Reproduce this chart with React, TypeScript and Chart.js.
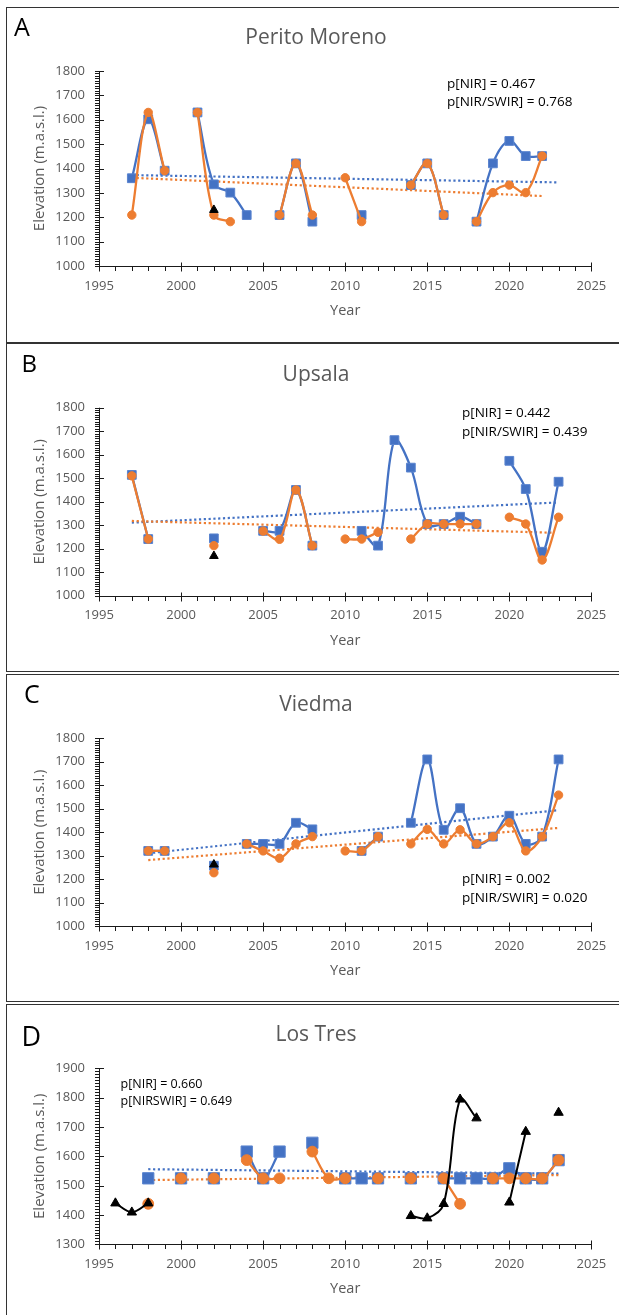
import React, { useEffect, useRef } from 'react';
import { Chart, registerables } from 'chart.js';

Chart.register(...registerables);

const FONT = "'Open Sans', 'Liberation Sans', sans-serif";
const GRAY = '#595959';
const BLUE = '#4472C4';
const ORANGE = '#ED7D31';
const BLACK = '#000000';
const AXIS = '#1a1a1a';

const X_TICKS = [1995, 2000, 2005, 2010, 2015, 2020, 2025];
const Y_TICKS_ABC = [1000, 1100, 1200, 1300, 1400, 1500, 1600, 1700, 1800];
const Y_TICKS_D = [1300, 1400, 1500, 1600, 1700, 1800, 1900];

// ---- Panel A: Perito Moreno
const A_YEARS = [1997, 1998, 1999, 2000, 2001, 2002, 2003, 2004, 2005, 2006, 2007, 2008, 2009, 2010, 2011, 2012, 2013, 2014, 2015, 2016, 2017, 2018, 2019, 2020, 2021, 2022];
const A_NIR = [1360, 1602, 1391, null, 1630, 1335, 1301, 1209, null, 1209, 1421, 1182, null, null, 1209, null, null, 1332, 1421, 1209, null, 1182, 1421, 1513, 1451, 1451];
const A_NIRSWIR = [1209, 1630, 1391, null, 1630, 1209, 1182, null, null, 1209, 1421, 1209, null, 1362, 1182, null, null, 1332, 1421, 1209, null, 1182, 1301, 1332, 1301, 1451];
const A_TRI_YEARS = [2002];
const A_TRI = [1230];
const A_TREND_NIR_YEARS = [1997, 2023];
const A_TREND_NIR = [1373, 1343];
const A_TREND_SWIR_YEARS = [1997, 2022];
const A_TREND_SWIR = [1362, 1287];

// ---- Panel B: Upsala
const B_YEARS = [1997, 1998, 1999, 2000, 2001, 2002, 2003, 2004, 2005, 2006, 2007, 2008, 2009, 2010, 2011, 2012, 2013, 2014, 2015, 2016, 2017, 2018, 2019, 2020, 2021, 2022, 2023];
const B_NIR = [1514, 1241, null, null, null, 1244, null, null, 1276, 1276, 1450, 1213, null, null, 1276, 1213, 1662, 1545, 1305, 1305, 1336, 1305, null, 1574, 1454, 1187, 1485];
const B_NIRSWIR = [1510, 1241, null, null, null, 1213, null, null, 1275, 1240, 1450, 1213, null, 1241, 1241, 1270, null, 1241, 1305, 1305, 1305, 1305, null, 1334, 1305, 1152, 1334];
const B_TRI_YEARS = [2002];
const B_TRI = [1169];
const B_TREND_NIR_YEARS = [1997, 2023];
const B_TREND_NIR = [1311, 1397];
const B_TREND_SWIR_YEARS = [1997, 2022.6];
const B_TREND_SWIR = [1318, 1268];

// ---- Panel C: Viedma
const C_YEARS = [1998, 1999, 2000, 2001, 2002, 2003, 2004, 2005, 2006, 2007, 2008, 2009, 2010, 2011, 2012, 2013, 2014, 2015, 2016, 2017, 2018, 2019, 2020, 2021, 2022, 2023];
const C_NIR = [1320, 1320, null, null, 1257, null, 1350, 1350, 1350, 1440, 1412, null, null, 1320, 1381, null, 1440, 1710, 1410, 1502, 1350, 1381, 1470, 1350, 1381, 1710];
const C_NIRSWIR = [1320, 1320, null, null, 1227, null, 1350, 1320, 1289, 1350, 1381, null, 1320, 1320, 1381, null, 1350, 1412, 1350, 1410, 1350, 1381, 1440, 1320, 1381, 1558];
const C_TRI_YEARS = [2002];
const C_TRI = [1262];
const C_TREND_NIR_YEARS = [1998, 2023];
const C_TREND_NIR = [1310, 1494];
const C_TREND_SWIR_YEARS = [1998, 2023];
const C_TREND_SWIR = [1281, 1418];

// ---- Panel D: Los Tres
const D_YEARS = [1996, 1997, 1998, 1999, 2000, 2001, 2002, 2003, 2004, 2005, 2006, 2007, 2008, 2009, 2010, 2011, 2012, 2013, 2014, 2015, 2016, 2017, 2018, 2019, 2020, 2021, 2022, 2023];
const D_NIR = [null, null, 1525, null, 1525, null, 1525, null, 1616, 1525, 1616, null, 1646, null, 1525, 1525, 1525, null, 1525, null, 1525, 1525, 1525, 1525, 1559, 1525, 1525, 1587];
const D_NIRSWIR = [null, null, 1438, null, 1525, null, 1525, null, 1587, 1525, 1525, null, 1616, 1525, 1525, null, 1525, null, 1525, null, 1525, 1438, null, 1525, 1525, 1525, 1525, 1587];
const D_TRI_YEARS = D_YEARS;
const D_TRI = [1440, 1409, 1440, null, null, null, null, null, null, null, null, null, null, null, null, null, null, null, 1397, 1389, 1438, 1794, 1730, null, 1443, 1684, null, 1749];
const D_TREND_NIR_YEARS = [1998, 2023];
const D_TREND_NIR = [1556, 1541];
const D_TREND_SWIR_YEARS = [1998, 2023];
const D_TREND_SWIR = [1519, 1536];

const PANELS = [
  {
    letter: 'A', letterX: 14, letterY: 26, letterSize: 25,
    title: 'Perito Moreno', titleY: 36,
    top: 7, height: 336, plotTop: 71, plotBottom: 266,
    yTicks: Y_TICKS_ABC,
    years: A_YEARS, nir: A_NIR, swir: A_NIRSWIR, triYears: A_TRI_YEARS, tri: A_TRI,
    tnY: A_TREND_NIR_YEARS, tn: A_TREND_NIR, tsY: A_TREND_SWIR_YEARS, ts: A_TREND_SWIR,
    ann: ['p[NIR] = 0.467', 'p[NIR/SWIR] = 0.768'], annX: 447, annY1: 83.5, annY2: 101.5, annSize: 13.5,
    sq: 6.2, ci: 4.2, tr: 5,
  },
  {
    letter: 'B', letterX: 21.5, letterY: 363, letterSize: 24,
    title: 'Upsala', titleY: 372.5,
    top: 343, height: 329, plotTop: 407.7, plotBottom: 595.7,
    yTicks: Y_TICKS_ABC,
    years: B_YEARS, nir: B_NIR, swir: B_NIRSWIR, triYears: B_TRI_YEARS, tri: B_TRI,
    tnY: B_TREND_NIR_YEARS, tn: B_TREND_NIR, tsY: B_TREND_SWIR_YEARS, ts: B_TREND_SWIR,
    ann: ['p[NIR] = 0.442', 'p[NIR/SWIR] = 0.439'], annX: 462, annY1: 412.7, annY2: 431.5, annSize: 13.5,
    sq: 6.2, ci: 4.2, tr: 5,
  },
  {
    letter: 'C', letterX: 24, letterY: 693, letterSize: 25,
    title: 'Viedma', titleY: 703,
    top: 674, height: 328, plotTop: 738.3, plotBottom: 926,
    yTicks: Y_TICKS_ABC,
    years: C_YEARS, nir: C_NIR, swir: C_NIRSWIR, triYears: C_TRI_YEARS, tri: C_TRI,
    tnY: C_TREND_NIR_YEARS, tn: C_TREND_NIR, tsY: C_TREND_SWIR_YEARS, ts: C_TREND_SWIR,
    ann: ['p[NIR] = 0.002', 'p[NIR/SWIR] = 0.020'], annX: 462, annY1: 879.3, annY2: 897.7, annSize: 13.5,
    sq: 6.2, ci: 4.2, tr: 5,
  },
  {
    letter: 'D', letterX: 21.5, letterY: 1035, letterSize: 27,
    title: 'Los Tres', titleY: 1033.3,
    top: 1004, height: 330, plotTop: 1068.3, plotBottom: 1244.3,
    yTicks: Y_TICKS_D,
    years: D_YEARS, nir: D_NIR, swir: D_NIRSWIR, triYears: D_TRI_YEARS, tri: D_TRI,
    tnY: D_TREND_NIR_YEARS, tn: D_TREND_NIR, tsY: D_TREND_SWIR_YEARS, ts: D_TREND_SWIR,
    ann: ['p[NIR] = 0.660', 'p[NIRSWIR] = 0.649'], annX: 120.5, annY1: 1084, annY2: 1100.7, annSize: 12.5,
    sq: 8, ci: 5.4, tr: 5.4,
  },
];

const PLOT_LEFT = 99;
const PLOT_RIGHT = 591.4;
const CANVAS_W = 619;
const Y_TITLE_CX = 39.5;
const Y_TITLE_SIZE = 15;
const X_TITLE_SIZE = 14.5;
const TICK_SIZE = 13;
const YEAR_OFFSET = 45;

const excelAxes = {
  id: 'excelAxes',
  beforeDatasetsDraw(chart: any, _args: any, opts: any) {
    const { ctx, chartArea } = chart;
    const xs = chart.scales.x;
    const ys = chart.scales.y;
    const { top, right, bottom, left } = chartArea;
    const ax = Math.round(left) + 0.5;
    const ay = Math.round(bottom) + 0.5;
    ctx.save();
    ctx.strokeStyle = opts.color || AXIS;
    ctx.lineWidth = 1;
    ctx.beginPath();
    ctx.moveTo(ax, top);
    ctx.lineTo(ax, ay);
    ctx.lineTo(right, ay);
    const yMinor = opts.yMinor;
    const ratio = Math.round(opts.yMajor / yMinor);
    const nY = Math.round((ys.max - ys.min) / yMinor);
    for (let i = 0; i <= nY; i++) {
      const v = ys.min + i * yMinor;
      const py = Math.round(ys.getPixelForValue(v)) + 0.5;
      if (i % ratio === 0) {
        ctx.moveTo(ax - 4.5, py);
        ctx.lineTo(ax + 4.5, py);
      } else {
        ctx.moveTo(ax - 4.5, py);
        ctx.lineTo(ax, py);
      }
    }
    const nX = Math.round(xs.max - xs.min);
    for (let i = 0; i <= nX; i++) {
      const v = xs.min + i;
      const px = Math.round(xs.getPixelForValue(v)) + 0.5;
      if (i % 5 === 0) {
        ctx.moveTo(px, ay - 4);
        ctx.lineTo(px, ay + 5);
      } else {
        ctx.moveTo(px, ay);
        ctx.lineTo(px, ay + 4.5);
      }
    }
    ctx.stroke();
    ctx.restore();
  },
};

function pts(xs: number[], ys: (number | null)[]) {
  return xs.map((x, i) => ({ x, y: ys[i] }));
}

function Panel({ p }: { p: any }) {
  const ref = useRef<HTMLCanvasElement>(null);
  useEffect(() => {
    const canvas = ref.current;
    if (!canvas) return;
    const yTitleLH = Y_TITLE_SIZE * 1.2;
    const xTitleLH = X_TITLE_SIZE * 1.2;
    const scaleLeft = Y_TITLE_CX - yTitleLH / 2;
    const yAxisW = PLOT_LEFT - scaleLeft;
    const xAxisH = YEAR_OFFSET + xTitleLH / 2;
    const padTop = p.plotTop - p.top;
    const padBottom = p.height - (p.plotBottom - p.top) - xAxisH;
    const tension = 0.35;
    const yTicks: number[] = p.yTicks;

    const chart = new Chart(canvas, {
      type: 'line',
      data: {
        datasets: [
          {
            label: 'tri',
            data: pts(p.triYears, p.tri),
            borderColor: BLACK,
            backgroundColor: BLACK,
            borderWidth: 2,
            pointStyle: 'triangle',
            pointRadius: p.tr,
            pointBorderWidth: 1,
            tension,
            spanGaps: false,
            order: 0,
          },
          {
            label: 'NIR/SWIR',
            data: pts(p.years, p.swir),
            borderColor: ORANGE,
            backgroundColor: ORANGE,
            borderWidth: 2.3,
            pointStyle: 'circle',
            pointRadius: p.ci,
            pointBorderWidth: 1,
            tension,
            spanGaps: false,
            order: 1,
          },
          {
            label: 'NIR',
            data: pts(p.years, p.nir),
            borderColor: BLUE,
            backgroundColor: BLUE,
            pointBorderColor: '#5a84cf',
            borderWidth: 2.3,
            pointStyle: 'rect',
            pointRadius: p.sq,
            pointBorderWidth: 1,
            tension,
            spanGaps: false,
            order: 2,
          },
          {
            label: 'trend NIR/SWIR',
            data: pts(p.tsY, p.ts),
            borderColor: ORANGE,
            borderWidth: 2.2,
            borderDash: [2.2, 2.6],
            pointRadius: 0,
            tension: 0,
            order: 3,
          },
          {
            label: 'trend NIR',
            data: pts(p.tnY, p.tn),
            borderColor: BLUE,
            borderWidth: 2.2,
            borderDash: [2.2, 2.6],
            pointRadius: 0,
            tension: 0,
            order: 3,
          },
        ],
      },
      options: {
        animation: false,
        responsive: false,
        maintainAspectRatio: false,
        events: [],
        layout: {
          padding: { left: scaleLeft, right: CANVAS_W - PLOT_RIGHT, top: padTop, bottom: padBottom },
        },
        plugins: {
          legend: { display: false },
          tooltip: { enabled: false },
          title: { display: false },
          excelAxes: { yMajor: 100, yMinor: 10, color: AXIS },
        } as any,
        scales: {
          x: {
            type: 'linear',
            min: X_TICKS[0],
            max: X_TICKS[X_TICKS.length - 1],
            afterBuildTicks: (s: any) => {
              s.ticks = X_TICKS.map((v) => ({ value: v }));
            },
            afterFit: (s: any) => {
              s.height = xAxisH;
            },
            ticks: {
              autoSkip: false,
              maxRotation: 0,
              color: GRAY,
              padding: 12,
              font: { family: FONT, size: TICK_SIZE },
              callback: (v: any) => String(v),
            },
            grid: { display: false, drawTicks: false },
            border: { display: false },
            title: {
              display: true,
              text: 'Year',
              color: GRAY,
              padding: 0,
              font: { family: FONT, size: X_TITLE_SIZE },
            },
          },
          y: {
            type: 'linear',
            min: yTicks[0],
            max: yTicks[yTicks.length - 1],
            afterBuildTicks: (s: any) => {
              s.ticks = yTicks.map((v) => ({ value: v }));
            },
            afterFit: (s: any) => {
              s.width = yAxisW;
            },
            ticks: {
              autoSkip: false,
              color: GRAY,
              padding: 14,
              font: { family: FONT, size: TICK_SIZE },
              callback: (v: any) => String(v),
            },
            grid: { display: false, drawTicks: false },
            border: { display: false },
            title: {
              display: true,
              text: 'Elevation (m.a.s.l.)',
              color: GRAY,
              padding: 0,
              font: { family: FONT, size: Y_TITLE_SIZE },
            },
          },
        },
      } as any,
      plugins: [excelAxes as any],
    });
    return () => chart.destroy();
  }, [p]);

  const textBase: React.CSSProperties = {
    position: 'absolute',
    whiteSpace: 'nowrap',
    lineHeight: 1,
    fontFamily: FONT,
  };

  return (
    <>
      <div
        style={{
          position: 'absolute',
          left: 6,
          top: p.top,
          width: 650,
          height: p.height,
          border: '1px solid #333',
          boxSizing: 'border-box',
        }}
      />
      <canvas
        ref={ref}
        width={CANVAS_W}
        height={p.height}
        style={{ position: 'absolute', left: 0, top: p.top, width: CANVAS_W, height: p.height }}
      />
      <div style={{ ...textBase, left: p.letterX, top: p.letterY, transform: 'translateY(-50%)', fontSize: p.letterSize, color: '#000' }}>
        {p.letter}
      </div>
      <div style={{ ...textBase, left: 316, top: p.titleY, transform: 'translate(-50%, -50%)', fontSize: 21, color: GRAY }}>
        {p.title}
      </div>
      <div style={{ ...textBase, left: p.annX, top: p.annY1, transform: 'translateY(-50%)', fontSize: p.annSize, color: '#000' }}>
        {p.ann[0]}
      </div>
      <div style={{ ...textBase, left: p.annX, top: p.annY2, transform: 'translateY(-50%)', fontSize: p.annSize, color: '#000' }}>
        {p.ann[1]}
      </div>
    </>
  );
}

export default function App() {
  return (
    <div
      style={{
        position: 'absolute',
        left: 0,
        top: 0,
        width: 619,
        height: 1315,
        overflow: 'hidden',
        background: '#fff',
      }}
    >
      {PANELS.map((p) => (
        <Panel key={p.letter} p={p} />
      ))}
    </div>
  );
}
